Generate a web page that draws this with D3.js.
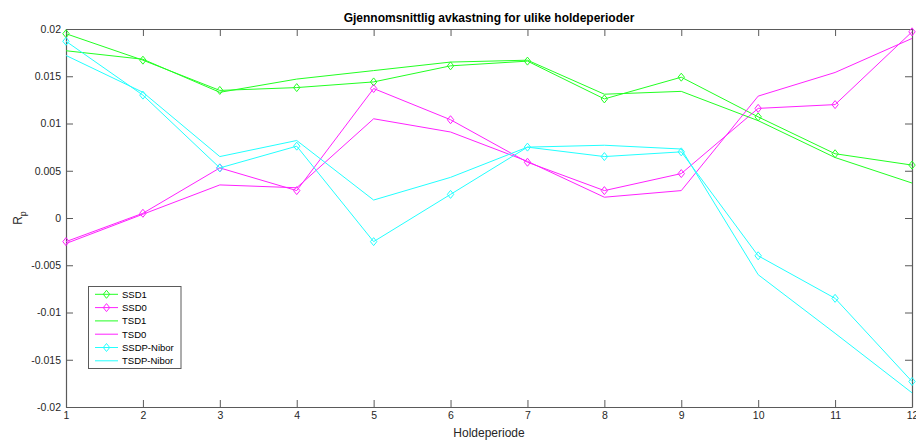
<!DOCTYPE html>
<html><head><meta charset="utf-8">
<script src="https://cdn.jsdelivr.net/npm/d3@7"></script>
<style>body{margin:0;background:#fff}svg{display:block;font-family:"Liberation Sans",Arial,sans-serif}</style>
</head><body><svg id="c" width="916" height="440"></svg>
<script>
const periods = [1,2,3,4,5,6,7,8,9,10,11,12];
const ssd1 = [0.0195,0.0167,0.0135,0.0138,0.0144,0.0161,0.0166,0.0126,0.0149,0.0107,0.0068,0.0056];
const ssd0 = [-0.0025,0.0005,0.0053,0.0029,0.0137,0.0104,0.0059,0.0029,0.0047,0.0116,0.0120,0.0197];
const tsd1 = [0.0177,0.0168,0.0133,0.0147,0.0156,0.0165,0.0167,0.0131,0.0134,0.0103,0.0064,0.0037];
const tsd0 = [-0.0027,0.0004,0.0035,0.0032,0.0105,0.0091,0.0060,0.0022,0.0029,0.0129,0.0154,0.0190];
const ssdpNibor = [0.0187,0.0130,0.0053,0.0076,-0.0025,0.0025,0.0075,0.0065,0.0070,-0.0040,-0.0085,-0.0173];
const tsdpNibor = [0.0172,0.0133,0.0065,0.0082,0.0019,0.0043,0.0075,0.0077,0.0073,-0.0060,-0.0122,-0.0185];
const yTicks = [-0.02,-0.015,-0.01,-0.005,0,0.005,0.01,0.015,0.02];
const yTickLabels = ["-0.02","-0.015","-0.01","-0.005","0","0.005","0.01","0.015","0.02"];

const series = [
  {name:"SSD1", values:ssd1, color:"#22ff22", marker:true},
  {name:"SSD0", values:ssd0, color:"#ff22ff", marker:true},
  {name:"TSD1", values:tsd1, color:"#22ff22", marker:false},
  {name:"TSD0", values:tsd0, color:"#ff22ff", marker:false},
  {name:"SSDP-Nibor", values:ssdpNibor, color:"#22ffff", marker:true},
  {name:"TSDP-Nibor", values:tsdpNibor, color:"#22ffff", marker:false}
];

const L=66, R=912, T=29, B=407;
const svg = d3.select("#c");
const x = d3.scaleLinear().domain([1,12]).range([L,R]);
const y = d3.scaleLinear().domain([-0.02,0.02]).range([B,T]);
const axisCol = "#5a5a5a", textCol = "#262626";

// axes
const gx = svg.append("g").attr("transform",`translate(0,${B})`)
  .call(d3.axisBottom(x).tickValues(periods).tickFormat(d3.format("d")).tickSizeInner(-7).tickSizeOuter(0).tickPadding(5));
const gxt = svg.append("g").attr("transform",`translate(0,${T})`)
  .call(d3.axisTop(x).tickValues(periods).tickFormat("").tickSizeInner(-7).tickSizeOuter(0));
const gy = svg.append("g").attr("transform",`translate(${L},0)`)
  .call(d3.axisLeft(y).tickValues(yTicks).tickFormat((d,i)=>yTickLabels[i]).tickSizeInner(-7).tickSizeOuter(0).tickPadding(5));
const gyr = svg.append("g").attr("transform",`translate(${R},0)`)
  .call(d3.axisRight(y).tickValues(yTicks).tickFormat("").tickSizeInner(-7).tickSizeOuter(0));
[gx,gxt,gy,gyr].forEach(g=>{
  g.selectAll("path.domain").attr("stroke",axisCol).attr("stroke-width",1.2);
  g.selectAll(".tick line").attr("stroke",axisCol);
  g.selectAll(".tick text").attr("fill",textCol).attr("font-size",10.5).attr("font-family","Liberation Sans, Arial, sans-serif");
});

// lines
const line = d3.line().x((d,i)=>x(periods[i])).y(d=>y(d));
const diamond = (cx,cy)=>`M${cx},${cy-4}L${cx+3.2},${cy}L${cx},${cy+4}L${cx-3.2},${cy}Z`;
series.forEach(s=>{
  svg.append("path").attr("d",line(s.values)).attr("fill","none").attr("stroke",s.color).attr("stroke-width",1);
  if(s.marker){
    svg.append("g").selectAll("path").data(s.values).join("path")
      .attr("d",(d,i)=>diamond(x(periods[i]),y(d))).attr("fill","none").attr("stroke",s.color).attr("stroke-width",1);
  }
});

// title
svg.append("text").attr("x",(L+R)/2).attr("y",22).attr("text-anchor","middle")
  .attr("font-weight","bold").attr("font-size",12).attr("fill","#000")
  .text("Gjennomsnittlig avkastning for ulike holdeperioder");
// x label
svg.append("text").attr("x",(L+R)/2).attr("y",437).attr("text-anchor","middle")
  .attr("font-size",12).attr("fill",textCol).text("Holdeperiode");
// y label
const yl = svg.append("text").attr("transform",`translate(22,${(T+B)/2}) rotate(-90)`)
  .attr("text-anchor","middle").attr("font-size",12).attr("fill",textCol);
yl.append("tspan").text("R");
yl.append("tspan").attr("font-size",9).attr("dy",4).text("p");

// legend
const lg = svg.append("g");
lg.append("rect").attr("x",88.5).attr("y",286.5).attr("width",92.5).attr("height",82)
  .attr("fill","#fff").attr("stroke",axisCol).attr("stroke-width",1);
series.forEach((s,i)=>{
  const yy = 294.3 + i*13.3;
  lg.append("line").attr("x1",95).attr("x2",118).attr("y1",yy).attr("y2",yy).attr("stroke",s.color).attr("stroke-width",1);
  if(s.marker) lg.append("path").attr("d",diamond(106.5,yy)).attr("fill","none").attr("stroke",s.color);
  lg.append("text").attr("x",122).attr("y",yy+3.5).attr("font-size",9.5).attr("fill","#000").text(s.name);
});
</script></body></html>
